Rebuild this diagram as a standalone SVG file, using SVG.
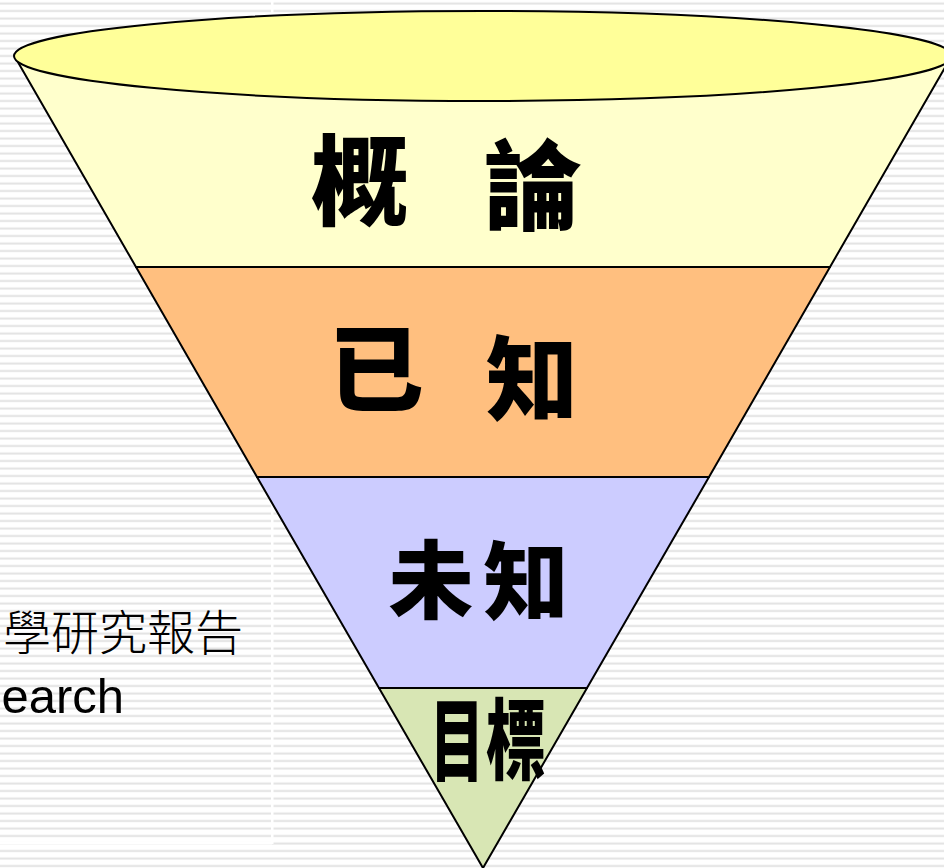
<svg xmlns="http://www.w3.org/2000/svg" width="944" height="868" viewBox="0 0 944 868">
  <style>
    .band { stroke: #000; stroke-width: 2; stroke-linejoin: round; }
    .cal { font-family: "Noto Sans CJK TC", "Noto Sans CJK SC", sans-serif; font-weight: 900; fill: #000; text-anchor: middle; }
    .body { fill: #000; text-anchor: end; }
  </style>
  <defs>
    <pattern id="stripes" x="0" y="0" width="10" height="7.5" patternUnits="userSpaceOnUse">
      <rect x="0" y="0" width="10" height="7.5" fill="#ffffff"/>
      <rect x="0" y="2.5" width="10" height="2" fill="#e3e3e3"/>
    </pattern>
  </defs>

  <g id="background">
    <rect x="0" y="0" width="944" height="868" fill="url(#stripes)"/>
    <rect x="271" y="0" width="2.5" height="844" fill="#ffffff"/>
    <rect x="0" y="842" width="272" height="2.5" fill="#ffffff"/>
  </g>

  <g id="title-text">
    <text class="body" x="243" y="650" font-family="Noto Sans CJK TC, Noto Sans CJK SC, sans-serif" font-weight="300" font-size="48">學研究報告</text>
    <text class="body" x="124" y="713" font-family="Liberation Sans, Arial, sans-serif" font-size="49">earch</text>
  </g>

  <g id="connectors"></g>

  <g id="band-overview">
    <polygon class="band" points="15,57 951,57 830,267 136,267" fill="#ffffcc"/>
    <ellipse class="band" cx="483" cy="56" rx="469" ry="45" fill="#ffff99"/>
    <text class="cal" x="360" y="217" font-size="98">概</text>
    <text class="cal" x="533" y="222" font-size="98">論</text>
  </g>

  <g id="band-known">
    <polygon class="band" points="136,267 830,267 709,477 257,477" fill="#ffbf7f"/>
    <text class="cal" x="376" y="405" font-size="95">已</text>
    <text class="cal" x="532" y="413" font-size="92">知</text>
  </g>

  <g id="band-unknown">
    <polygon class="band" points="257,477 709,477 587,688 379,688" fill="#ccccff"/>
    <text class="cal" x="431" y="612" font-size="85">未</text>
    <text class="cal" x="526" y="613" font-size="85">知</text>
  </g>

  <g id="band-goal">
    <polygon class="band" points="379,688 587,688 483,868" fill="#d8e6b4"/>
    <text class="cal" transform="translate(457,774) scale(0.6,1)" x="0" y="0" font-size="90">目</text>
    <text class="cal" transform="translate(516,772) scale(0.68,1)" x="0" y="0" font-size="88">標</text>
  </g>
</svg>
